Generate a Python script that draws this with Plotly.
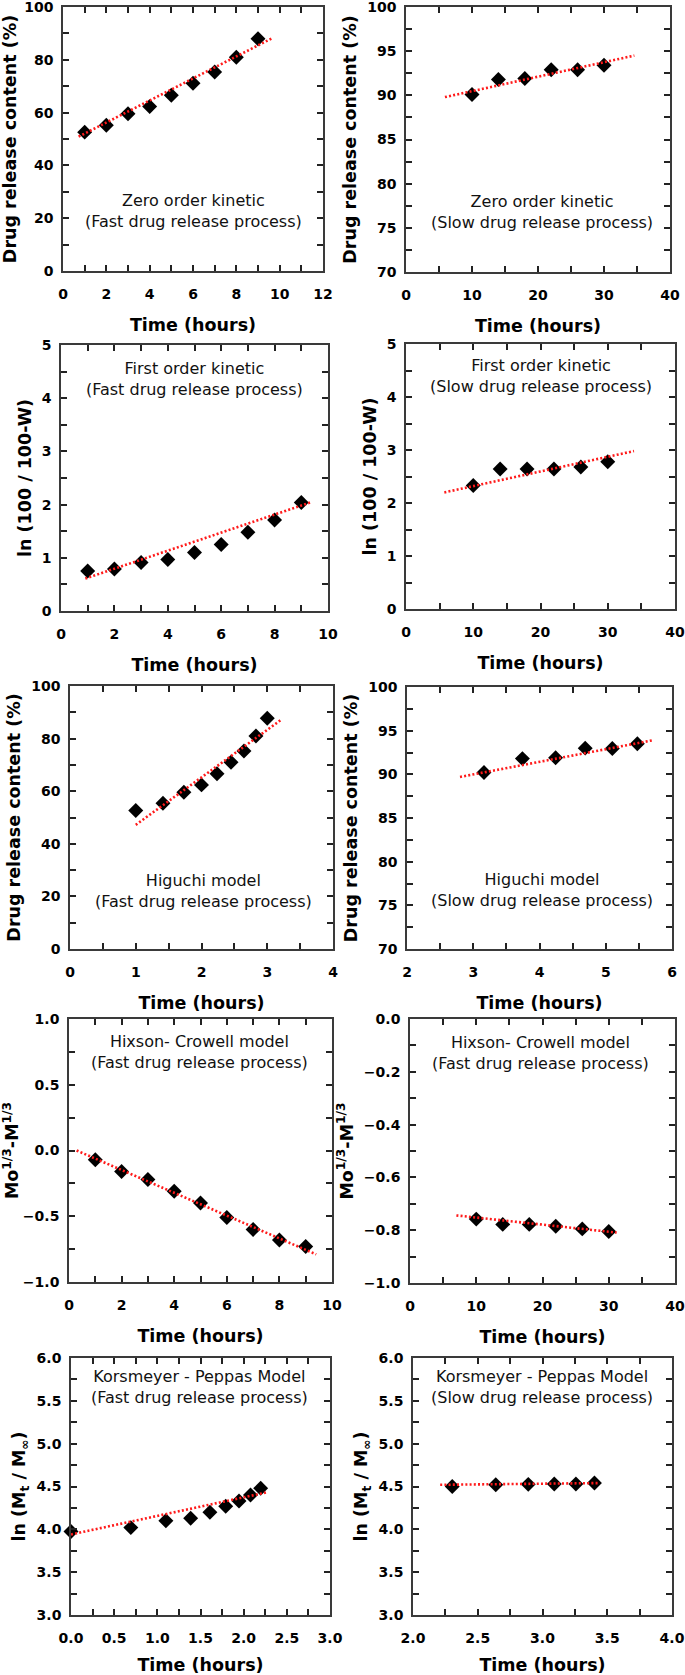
import plotly.graph_objects as go

# ---------------- data ----------------
# Zero order kinetic
zero_fast_t = [1, 2, 3, 4, 5, 6, 7, 8, 9]
zero_fast_y = [52.6, 55.2, 59.6, 62.3, 66.6, 71.1, 75.4, 81.0, 88.0]
zero_fast_fit_t = [0.72, 9.66]
zero_fast_fit_y = [50.9, 88.2]

zero_slow_t = [10, 14, 18, 22, 26, 30]
zero_slow_y = [90.1, 91.8, 91.9, 92.9, 92.9, 93.4]
zero_slow_fit_t = [5.9, 34.6]
zero_slow_fit_y = [89.8, 94.5]

# First order kinetic
first_fast_t = [1, 2, 3, 4, 5, 6, 7, 8, 9]
first_fast_y = [0.75, 0.79, 0.91, 0.97, 1.10, 1.25, 1.48, 1.71, 2.04]
first_fast_fit_t = [0.91, 9.34]
first_fast_fit_y = [0.61, 2.04]

first_slow_t = [10, 14, 18, 22, 26, 30]
first_slow_y = [2.33, 2.64, 2.64, 2.64, 2.68, 2.78]
first_slow_fit_t = [5.7, 33.9]
first_slow_fit_y = [2.20, 2.98]

# Higuchi model
higuchi_fast_t = [1.0, 1.414, 1.732, 2.0, 2.236, 2.449, 2.646, 2.828, 3.0]
higuchi_fast_y = [52.7, 55.4, 59.6, 62.4, 66.6, 71.0, 75.3, 81.0, 87.7]
higuchi_fast_fit_t = [1.0, 3.22]
higuchi_fast_fit_y = [47.2, 87.3]

higuchi_slow_t = [3.162, 3.742, 4.243, 4.690, 5.099, 5.477]
higuchi_slow_y = [90.2, 91.8, 91.9, 93.0, 92.95, 93.5]
higuchi_slow_fit_t = [2.80, 5.71]
higuchi_slow_fit_y = [89.7, 93.9]

# Hixson-Crowell model
hixson_fast_t = [1, 2, 3, 4, 5, 6, 7, 8, 9]
hixson_fast_y = [-0.07, -0.16, -0.22, -0.31, -0.40, -0.51, -0.60, -0.68, -0.73]
hixson_fast_fit_t = [0.29, 9.4]
hixson_fast_fit_y = [0.0, -0.79]

hixson_slow_t = [10, 14, 18, 22, 26, 30]
hixson_slow_y = [-0.758, -0.778, -0.778, -0.785, -0.795, -0.805]
hixson_slow_fit_t = [7.0, 31.2]
hixson_slow_fit_y = [-0.744, -0.809]

# Korsmeyer-Peppas model
korsmeyer_fast_t = [0.0, 0.693, 1.099, 1.386, 1.609, 1.792, 1.946, 2.079, 2.197]
korsmeyer_fast_y = [3.975, 4.02, 4.10, 4.13, 4.20, 4.27, 4.33, 4.40, 4.48]
korsmeyer_fast_fit_t = [0.0, 2.26]
korsmeyer_fast_fit_y = [3.94, 4.43]

korsmeyer_slow_t = [2.303, 2.639, 2.890, 3.091, 3.258, 3.401]
korsmeyer_slow_y = [4.50, 4.52, 4.525, 4.53, 4.53, 4.54]
korsmeyer_slow_fit_t = [2.21, 3.44]
korsmeyer_slow_fit_y = [4.52, 4.54]

# Titles / labels
panel_labels = [
    "Zero order kinetic<br>(Fast drug release process)",
    "Zero order kinetic<br>(Slow drug release process)",
    "First order kinetic<br>(Fast drug release process)",
    "First order kinetic<br>(Slow drug release process)",
    "Higuchi model<br>(Fast drug release process)",
    "Higuchi model<br>(Slow drug release process)",
    "Hixson- Crowell model<br>(Fast drug release process)",
    "Hixson- Crowell model<br>(Fast drug release process)",
    "Korsmeyer - Peppas Model<br>(Fast drug release process)",
    "Korsmeyer - Peppas Model<br>(Slow drug release process)",
]
x_title = "Time (hours)"
y_titles = [
    "Drug release content (%)", "Drug release content (%)",
    "ln (100 / 100-W)", "ln (100 / 100-W)",
    "Drug release content (%)", "Drug release content (%)",
    "Mo<sup>1/3</sup>-M<sup>1/3</sup>", "Mo<sup>1/3</sup>-M<sup>1/3</sup>",
    "ln (M<sub>t</sub> / M<sub>∞</sub>)", "ln (M<sub>t</sub> / M<sub>∞</sub>)",
]

series = [
    (zero_fast_t, zero_fast_y, zero_fast_fit_t, zero_fast_fit_y),
    (zero_slow_t, zero_slow_y, zero_slow_fit_t, zero_slow_fit_y),
    (first_fast_t, first_fast_y, first_fast_fit_t, first_fast_fit_y),
    (first_slow_t, first_slow_y, first_slow_fit_t, first_slow_fit_y),
    (higuchi_fast_t, higuchi_fast_y, higuchi_fast_fit_t, higuchi_fast_fit_y),
    (higuchi_slow_t, higuchi_slow_y, higuchi_slow_fit_t, higuchi_slow_fit_y),
    (hixson_fast_t, hixson_fast_y, hixson_fast_fit_t, hixson_fast_fit_y),
    (hixson_slow_t, hixson_slow_y, hixson_slow_fit_t, hixson_slow_fit_y),
    (korsmeyer_fast_t, korsmeyer_fast_y, korsmeyer_fast_fit_t, korsmeyer_fast_fit_y),
    (korsmeyer_slow_t, korsmeyer_slow_y, korsmeyer_slow_fit_t, korsmeyer_slow_fit_y),
]

# ---------------- layout / style ----------------
W, H = 685, 1675
# plot areas in pixels: (left, right, top, bottom)
boxes = [
    (63, 323, 7, 271), (406, 670, 7, 272),
    (61, 328, 345, 611), (406, 675, 344, 609),
    (70, 333, 686, 949), (407, 672, 687, 949),
    (69, 332, 1019, 1282), (410, 675, 1019, 1283),
    (71, 330, 1358, 1615), (413, 672, 1358, 1615),
]
# axis specs: (xrange, xdtick, xminor, xfmt, yrange, ydtick, yminor, yfmt)
axspec = [
    ([0, 12], 2, 1, "", [0, 100], 20, 10, ""),
    ([0, 40], 10, 5, "", [70, 100], 5, 2.5, ""),
    ([0, 10], 2, 1, "", [0, 5], 1, 0.5, ""),
    ([0, 40], 10, 5, "", [0, 5], 1, 0.5, ""),
    ([0, 4], 1, 0.5, "", [0, 100], 20, 10, ""),
    ([2, 6], 1, 0.5, "", [70, 100], 5, 2.5, ""),
    ([0, 10], 2, 1, "", [-1, 1], 0.5, 0.25, ".1f"),
    ([0, 40], 10, 5, "", [-1, 0], 0.2, 0.1, ".1f"),
    ([0, 3], 0.5, 0.25, ".1f", [3, 6], 0.5, 0.25, ".1f"),
    ([2, 4], 0.5, 0.25, ".1f", [3, 6], 0.5, 0.25, ".1f"),
]
label_pos = [
    (0.5, 0.229), (0.515, 0.225),
    (0.5, 0.874), (0.5, 0.881),
    (0.506, 0.222), (0.51, 0.227),
    (0.498, 0.873), (0.494, 0.873),
    (0.498, 0.887), (0.498, 0.887),
]

FONT = "DejaVu Sans"
axis_color = "#3a3a3a"
tick_color = "#222"

fig = go.Figure()
layout = dict(
    width=W, height=H,
    margin=dict(l=0, r=0, t=0, b=0),
    paper_bgcolor="white", plot_bgcolor="white",
    showlegend=False,
    font=dict(family=FONT, color="black"),
)
annotations = []

for i, (box, spec, (tx, ty, fx, fy)) in enumerate(zip(boxes, axspec, series)):
    n = i + 1
    xa = "x" if n == 1 else f"x{n}"
    ya = "y" if n == 1 else f"y{n}"
    xkey = "xaxis" if n == 1 else f"xaxis{n}"
    ykey = "yaxis" if n == 1 else f"yaxis{n}"
    l, r, t, b = box
    xr, xd, xm, xf, yr, yd, ym, yf = spec

    fig.add_trace(go.Scatter(
        x=tx, y=ty, mode="markers", xaxis=xa, yaxis=ya,
        marker=dict(symbol="diamond", size=11.5, color="black",
                    line=dict(width=0)),
        cliponaxis=False,
    ))
    fig.add_trace(go.Scatter(
        x=fx, y=fy, mode="lines", xaxis=xa, yaxis=ya,
        line=dict(color="#ff1a1a", width=2.6, dash="2px,2.2px"),
    ))

    common = dict(
        showline=True, linecolor=axis_color, linewidth=1.6, mirror="allticks",
        ticks="inside", ticklen=6, tickwidth=1.6, tickcolor=tick_color,
        showgrid=False, zeroline=False, automargin=False,
        ticklabeloverflow="allow",
        tickfont=dict(family=FONT, size=14, color="black", weight="bold"),
    )
    layout[xkey] = dict(
        common,
        domain=[l / W, r / W], anchor=ya, range=xr, dtick=xd, tick0=xr[0],
        tickformat=xf,
        minor=dict(ticks="inside", ticklen=6, tickwidth=1.6, tickcolor=tick_color,
                   dtick=xm, tick0=xr[0], showgrid=False),
        ticklabelstandoff=9,
        title=dict(text=x_title, standoff=18,
                   font=dict(family=FONT, size=17.5, color="black", weight="bold")),
    )
    layout[ykey] = dict(
        common,
        domain=[1 - b / H, 1 - t / H], anchor=xa, range=yr, dtick=yd, tick0=yr[0],
        tickformat=yf,
        minor=dict(ticks="inside", ticklen=6, tickwidth=1.6, tickcolor=tick_color,
                   dtick=ym, tick0=yr[0], showgrid=False),
        ticklabelstandoff=5,
        title=dict(text=y_titles[i], standoff=6,
                   font=dict(family=FONT, size=17.5, color="black", weight="bold")),
    )
    ax, ay = label_pos[i]
    annotations.append(dict(
        text=panel_labels[i], xref=f"{xa} domain", yref=f"{ya} domain",
        x=ax, y=ay, xanchor="center", yanchor="middle", showarrow=False,
        align="center", font=dict(family=FONT, size=16, color="#111"),
    ))

layout["annotations"] = annotations
fig.update_layout(**layout)
fig.write_html(
    "out.html",
    config={"displayModeBar": False},
    post_script="document.body.style.margin='0';document.body.style.padding='0';",
)
